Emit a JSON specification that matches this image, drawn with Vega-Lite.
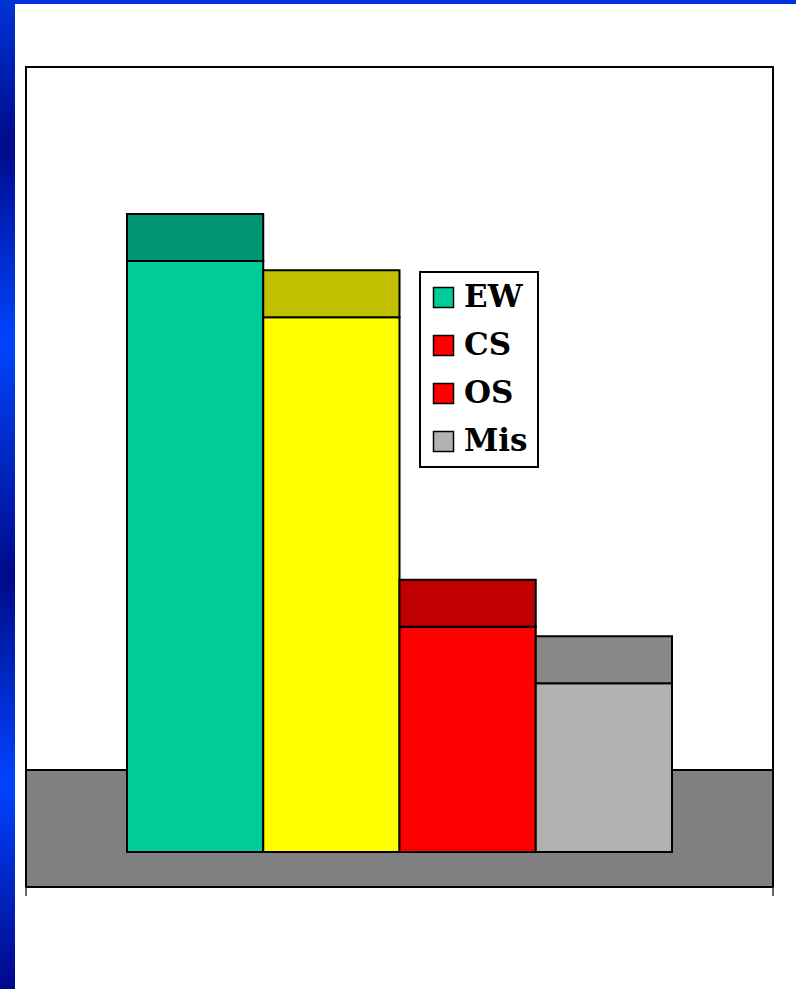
{
  "$schema": "https://vega.github.io/schema/vega-lite/v6.json",
  "width": 796,
  "height": 989,
  "autosize": {"type": "fit", "contains": "padding"},
  "padding": 0,
  "background": "white",
  "config": {"view": {"stroke": null}},
  "datasets": {
    "bars": [
      {"cat": "EW", "value": 42},
      {"cat": "CS", "value": 38},
      {"cat": "OS", "value": 16},
      {"cat": "Mis", "value": 12}
    ],
    "one": [{}]
  },
  "resolve": {"scale": {"x": "independent"}},
  "layer": [
    {
      "data": {"name": "one"},
      "layer": [
        {
          "mark": {
            "type": "rect",
            "color": {
              "gradient": "linear",
              "x1": 0, "y1": 0, "x2": 0, "y2": 1,
              "stops": [
                {"offset": 0, "color": "#0033d6"},
                {"offset": 0.147, "color": "#000a8c"},
                {"offset": 0.345, "color": "#0044ff"},
                {"offset": 0.583, "color": "#000a88"},
                {"offset": 0.79, "color": "#0044ff"},
                {"offset": 1, "color": "#00088a"}
              ]
            }
          },
          "encoding": {
            "x": {"datum": -0.93211, "type": "quantitative", "scale": {"domain": [-0.93211, 4.91009], "nice": false, "zero": false}, "axis": null},
            "x2": {"datum": -0.82202},
            "y": {"datum": 60.548, "type": "quantitative", "scale": {"domain": [-9.736, 60.548], "nice": false, "zero": false}, "axis": null},
            "y2": {"datum": -9.736}
          }
        },
        {
          "mark": {"type": "rect", "color": "#0030e0"},
          "encoding": {
            "x": {"datum": -0.82202, "type": "quantitative", "scale": {"domain": [-0.93211, 4.91009], "nice": false, "zero": false}, "axis": null},
            "x2": {"datum": 4.91009},
            "y": {"datum": 60.548, "type": "quantitative", "scale": {"domain": [-9.736, 60.548], "nice": false, "zero": false}, "axis": null},
            "y2": {"datum": 60.264}
          }
        }
      ]
    },
    {
      "data": {"name": "bars"},
      "mark": {"type": "rect", "stroke": "black", "strokeWidth": 1.5},
      "encoding": {
        "x": {"field": "cat", "type": "nominal", "sort": null, "scale": {"type": "band", "domain": ["EW", "CS", "OS", "Mis"], "paddingInner": 0, "paddingOuter": 0.9211, "align": 0.50598}, "axis": null},
        "y": {"field": "value", "type": "quantitative", "scale": {"domain": [-9.736, 60.548], "nice": false, "zero": false}, "axis": null},
        "y2": {"datum": 0},
        "fill": {
          "field": "cat",
          "type": "nominal",
          "scale": {"domain": ["EW", "CS", "OS", "Mis"], "range": ["#00CC99", "#FF0000", "#FF0000", "#B2B2B2"]},
          "legend": {
            "title": null,
            "orient": "none",
            "legendX": 420,
            "legendY": 272,
            "direction": "vertical",
            "symbolType": "square",
            "symbolSize": 400,
            "symbolStrokeColor": "black",
            "symbolStrokeWidth": 1.5,
            "symbolOffset": -2,
            "labelFont": "DejaVu Serif",
            "labelFontSize": 31,
            "labelFontWeight": "bold",
            "labelColor": "black",
            "labelOffset": 5,
            "rowPadding": 16,
            "padding": 10,
            "strokeColor": "black",
            "fillColor": "white",
            "encode": {"legend": {"update": {"strokeWidth": {"value": 2}}}}
          }
        }
      }
    },
    {
      "data": {"name": "one"},
      "layer": [
        {
          "mark": {"type": "rect", "fill": "white", "stroke": "black", "strokeWidth": 2},
          "encoding": {
            "x": {"datum": -0.74128, "type": "quantitative", "scale": {"domain": [-0.93211, 4.91009], "nice": false, "zero": false}, "axis": null},
            "x2": {"datum": 4.74128},
            "y": {"datum": 55.787, "type": "quantitative", "scale": {"domain": [-9.736, 60.548], "nice": false, "zero": false}, "axis": null},
            "y2": {"datum": -2.4873}
          }
        },
        {
          "mark": {"type": "rect", "fill": "#808080", "stroke": "black", "strokeWidth": 2},
          "encoding": {
            "x": {"datum": -0.74128, "type": "quantitative", "scale": {"domain": [-0.93211, 4.91009], "nice": false, "zero": false}, "axis": null},
            "x2": {"datum": 4.74128},
            "y": {"datum": 5.8274, "type": "quantitative", "scale": {"domain": [-9.736, 60.548], "nice": false, "zero": false}, "axis": null},
            "y2": {"datum": -2.4873}
          }
        },
        {
          "mark": {"type": "rule", "stroke": "#333333", "strokeWidth": 1.5},
          "encoding": {
            "x": {"datum": -0.74128, "type": "quantitative", "scale": {"domain": [-0.93211, 4.91009], "nice": false, "zero": false}, "axis": null},
            "y": {"datum": -2.4873, "type": "quantitative", "scale": {"domain": [-9.736, 60.548], "nice": false, "zero": false}, "axis": null},
            "y2": {"datum": -3.1269}
          }
        },
        {
          "mark": {"type": "rule", "stroke": "#333333", "strokeWidth": 1.5},
          "encoding": {
            "x": {"datum": 4.74128, "type": "quantitative", "scale": {"domain": [-0.93211, 4.91009], "nice": false, "zero": false}, "axis": null},
            "y": {"datum": -2.4873, "type": "quantitative", "scale": {"domain": [-9.736, 60.548], "nice": false, "zero": false}, "axis": null},
            "y2": {"datum": -3.1269}
          }
        }
      ]
    },
    {
      "data": {"name": "bars"},
      "resolve": {"scale": {"color": "independent"}},
      "layer": [
        {
          "mark": {"type": "rect", "stroke": "black", "strokeWidth": 2},
          "encoding": {
            "x": {"field": "cat", "type": "nominal", "sort": null, "scale": {"type": "band", "domain": ["EW", "CS", "OS", "Mis"], "paddingInner": 0, "paddingOuter": 0.9211, "align": 0.50598}, "axis": null},
            "y": {"field": "value", "type": "quantitative", "scale": {"domain": [-9.736, 60.548], "nice": false, "zero": false}, "axis": null},
            "y2": {"datum": 0},
            "color": {"field": "cat", "type": "nominal", "scale": {"domain": ["EW", "CS", "OS", "Mis"], "range": ["#00CC99", "#FFFF00", "#FF0000", "#B2B2B2"]}, "legend": null}
          }
        },
        {
          "mark": {"type": "rect", "stroke": "black", "strokeWidth": 2, "y2Offset": -47},
          "encoding": {
            "x": {"field": "cat", "type": "nominal", "sort": null, "scale": {"type": "band", "domain": ["EW", "CS", "OS", "Mis"], "paddingInner": 0, "paddingOuter": 0.9211, "align": 0.50598}, "axis": null},
            "y": {"field": "value", "type": "quantitative", "scale": {"domain": [-9.736, 60.548], "nice": false, "zero": false}, "axis": null},
            "y2": {"field": "value"},
            "color": {"field": "cat", "type": "nominal", "scale": {"domain": ["EW", "CS", "OS", "Mis"], "range": ["#009674", "#C0C000", "#C00000", "#888888"]}, "legend": null}
          }
        }
      ]
    }
  ]
}
